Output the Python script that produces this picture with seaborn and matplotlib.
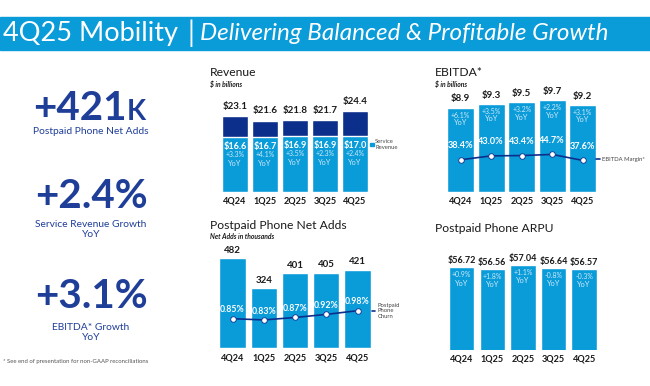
import numpy as np
import pandas as pd
import matplotlib
matplotlib.use("Agg")
import matplotlib.pyplot as plt
import seaborn as sns
from matplotlib.patches import Patch, Rectangle
from matplotlib.lines import Line2D

# ---------------- data ----------------
quarters = ["4Q24", "1Q25", "2Q25", "3Q25", "4Q25"]
revenue_total = [23.1, 21.6, 21.8, 21.7, 24.4]
service_revenue = [16.6, 16.7, 16.9, 16.9, 17.0]
service_yoy = ["+3.3%", "+4.1%", "+3.5%", "+2.3%", "+2.4%"]
ebitda = [8.9, 9.3, 9.5, 9.7, 9.2]
ebitda_yoy = ["+6.1%", "+3.5%", "+3.2%", "+2.2%", "+3.1%"]
ebitda_margin = [38.4, 43.0, 43.4, 44.7, 37.6]
net_adds = [482, 324, 401, 405, 421]
churn = [0.85, 0.83, 0.87, 0.92, 0.98]
arpu = [56.72, 56.56, 57.04, 56.64, 56.57]
arpu_yoy = ["+0.9%", "+1.8%", "+1.1%", "-0.8%", "-0.3%"]

kpi_numbers = ["+421", "+2.4%", "+3.1%"]
kpi_suffix = ["K", "", ""]
kpi_labels = ["Postpaid Phone Net Adds", "Service Revenue Growth\nYoY", "EBITDA* Growth\nYoY"]

# ---------------- style ----------------
BLUE = "#0A9BD9"
NAVY = "#0D2F8C"
KPI = "#1F3E98"
PALE = "#CFEAF8"
DARK = "#1a1a1a"

sns.set_theme(style="white")
plt.rcParams["font.family"] = ["Lato", "DejaVu Sans"]

W, H = 650, 386
fig = plt.figure(figsize=(W / 100, H / 100), dpi=100)
fig.patch.set_facecolor("white")


def box(l, t, r, b):
    return [l / W, 1 - b / H, (r - l) / W, (b - t) / H]


def fx(px):
    return px / W


def fy(py):
    return 1 - py / H


# header band
fig.patches.append(Rectangle((0, fy(50)), 1, (50 - 16.5) / H, transform=fig.transFigure,
                             color=BLUE, zorder=0))
fig.text(fx(3), fy(33), "4Q25 Mobility", color="white", fontsize=19.5, va="center", ha="left")
fig.text(fx(188), fy(33), "|", color="white", fontsize=20, va="center", ha="left")
fig.text(fx(200), fy(34), "Delivering Balanced & Profitable Growth", color="white",
         fontsize=17.5, style="italic", va="center", ha="left")

# ---------------- KPIs ----------------
kpi_base = [119.5, 208, 308]
kpi_sub_y = [132, 220, 323]
for i in range(3):
    if kpi_suffix[i]:
        fig.text(fx(127), fy(kpi_base[i]), kpi_numbers[i], color=KPI, fontsize=29,
                 fontweight="bold", ha="right", va="baseline")
        fig.text(fx(127), fy(kpi_base[i]), kpi_suffix[i], color=KPI, fontsize=20,
                 fontweight="bold", ha="left", va="baseline")
    else:
        fig.text(fx(91), fy(kpi_base[i]), kpi_numbers[i], color=KPI, fontsize=29,
                 fontweight="bold", ha="center", va="baseline")
    fig.text(fx(91), fy(kpi_sub_y[i]), kpi_labels[i], color=KPI, fontsize=7.4,
             ha="center", va="top" if "\n" in kpi_labels[i] else "center",
             linespacing=1.2)
fig.text(fx(3), fy(361), "* See end of presentation for non-GAAP reconciliations",
         color="#555555", fontsize=4.3, ha="left", va="center")


def style_axis(ax, ylim, xlim=(-0.5, 4.5)):
    ax.set_ylim(*ylim)
    ax.set_xlim(*xlim)
    ax.set_yticks([])
    ax.set_xlabel("")
    ax.set_ylabel("")
    for s in ax.spines.values():
        s.set_visible(False)
    ax.tick_params(axis="x", length=0, pad=3.5, labelsize=6.6, labelcolor=DARK)
    for t in ax.get_xticklabels():
        t.set_fontweight("bold")
    ax.set_facecolor("none")


def titles(x, y, title, sub=None):
    fig.text(fx(x), fy(y), title, fontsize=8.7, color=DARK, ha="left", va="center")
    if sub:
        fig.text(fx(x), fy(y + 11.3), sub, fontsize=4.9, color=DARK, ha="left",
                 va="center", style="italic", fontweight="bold")


# ---------------- Revenue ----------------
ax = fig.add_axes(box(220, 100, 370, 192))
sns.barplot(x=quarters, y=revenue_total, color=NAVY, saturation=1, width=0.85, ax=ax)
sns.barplot(x=quarters, y=service_revenue, color=BLUE, saturation=1, width=0.85, ax=ax)
style_axis(ax, (0, 92 / 3.3))
for i in range(len(quarters)):
    ax.annotate(f"${revenue_total[i]:.1f}", (i, revenue_total[i]), xytext=(0, 7),
                textcoords="offset points", ha="center", va="center", fontsize=7,
                fontweight="bold", color=DARK)
    ax.annotate(f"${service_revenue[i]:.1f}", (i, service_revenue[i]), xytext=(0, -6.8),
                textcoords="offset points", ha="center", va="center", fontsize=6.6,
                fontweight="bold", color="white")
    ax.annotate(service_yoy[i], (i, service_revenue[i]), xytext=(0, -12.7),
                textcoords="offset points", ha="center", va="center", fontsize=5,
                color=PALE)
    ax.annotate("YoY", (i, service_revenue[i]), xytext=(0, -18.8),
                textcoords="offset points", ha="center", va="center", fontsize=5.3,
                color=PALE)
ax.legend(handles=[Patch(color=BLUE, label="Service\nRevenue")], loc="center left",
          bbox_to_anchor=(fx(370), fy(144.5)), bbox_transform=fig.transFigure,
          frameon=False, fontsize=4.2, handlelength=0.6, handleheight=0.6,
          handletextpad=0.3, borderpad=0, borderaxespad=0, labelcolor="#444444")
titles(210, 72.7, "Revenue", "$ in billions")

# ---------------- EBITDA ----------------
ax = fig.add_axes(box(445.5, 92, 598, 192))
sns.barplot(x=quarters, y=ebitda, color=BLUE, saturation=1, width=0.885, ax=ax)
style_axis(ax, (0, 100 / 9.47))
ax2 = ax.twinx()
sns.lineplot(x=np.arange(len(quarters)), y=ebitda_margin, ax=ax2, color=NAVY,
             linewidth=1.2, marker="o", markersize=4, markerfacecolor="white",
             markeredgecolor=NAVY, markeredgewidth=0.6)
ax2.set_ylim(0, 100 / 0.84)
ax2.set_xlim(-0.5, 4.5)
ax2.axis("off")
for i in range(len(quarters)):
    ax.annotate(f"${ebitda[i]:.1f}", (i, ebitda[i]), xytext=(0, 6.3),
                textcoords="offset points", ha="center", va="center", fontsize=7,
                fontweight="bold", color=DARK)
    ax.annotate(ebitda_yoy[i], (i, ebitda[i]), xytext=(0, -5.3),
                textcoords="offset points", ha="center", va="center", fontsize=5,
                color=PALE)
    ax.annotate("YoY", (i, ebitda[i]), xytext=(0, -10.8),
                textcoords="offset points", ha="center", va="center", fontsize=5.3,
                color=PALE)
    ax2.annotate(f"{ebitda_margin[i]:.1f}%", (i, ebitda_margin[i]), xytext=(0, 10),
                 textcoords="offset points", ha="center", va="center", fontsize=6.6,
                 fontweight="bold", color="white")
ax2.legend(handles=[Line2D([], [], color=NAVY, linewidth=1.2, label="EBITDA Margin*")],
           loc="center left", bbox_to_anchor=(fx(596), fy(159)),
           bbox_transform=fig.transFigure, frameon=False, fontsize=4.2,
           handlelength=0.6, handletextpad=0.4, borderpad=0, borderaxespad=0,
           labelcolor="#444444")
titles(435, 72.7, "EBITDA*", "$ in billions")

# ---------------- Net adds ----------------
ax = fig.add_axes(box(216.9, 245, 373.15, 348.3))
sns.barplot(x=quarters, y=net_adds, color=BLUE, saturation=1, width=0.84, ax=ax)
style_axis(ax, (0, 103.3 / 0.1867))
ax2 = ax.twinx()
sns.lineplot(x=np.arange(len(quarters)), y=churn, ax=ax2, color=NAVY,
             linewidth=1.2, marker="o", markersize=4, markerfacecolor="white",
             markeredgecolor=NAVY, markeredgewidth=0.6)
ax2.set_ylim(0.85 - 29.6 / 61.5, 0.85 + 73.7 / 61.5)
ax2.set_xlim(-0.5, 4.5)
ax2.axis("off")
for i in range(len(quarters)):
    ax.annotate(f"{net_adds[i]}", (i, net_adds[i]), xytext=(0, 5.6),
                textcoords="offset points", ha="center", va="center", fontsize=7,
                fontweight="bold", color=DARK)
    ax2.annotate(f"{churn[i]:.2f}%", (i, churn[i]), xytext=(0, 6.3),
                 textcoords="offset points", ha="center", va="center", fontsize=6.3,
                 fontweight="bold", color="white")
ax2.legend(handles=[Line2D([], [], color=NAVY, linewidth=1.2,
                           label="Postpaid\nPhone\nChurn")],
           loc="center left", bbox_to_anchor=(fx(371.5), fy(311)),
           bbox_transform=fig.transFigure, frameon=False, fontsize=4.2,
           handlelength=0.6, handletextpad=0.4, borderpad=0, borderaxespad=0,
           labelcolor="#444444")
titles(210, 225.7, "Postpaid Phone Net Adds", "Net Adds in thousands")

# ---------------- ARPU ----------------
ax = fig.add_axes(box(446.4, 255, 599.4, 350))
sns.barplot(x=quarters, y=arpu, color=BLUE, saturation=1, width=0.83, ax=ax)
style_axis(ax, (47, 47 + 95 / 8.49))
for i in range(len(quarters)):
    ax.annotate(f"${arpu[i]:.2f}", (i, arpu[i]), xytext=(0, 4.8),
                textcoords="offset points", ha="center", va="center", fontsize=6.5,
                fontweight="bold", color=DARK)
    ax.annotate(arpu_yoy[i], (i, arpu[i]), xytext=(0, -5.4),
                textcoords="offset points", ha="center", va="center", fontsize=5,
                color=PALE)
    ax.annotate("YoY", (i, arpu[i]), xytext=(0, -11.4),
                textcoords="offset points", ha="center", va="center", fontsize=5.3,
                color=PALE)
titles(435, 228, "Postpaid Phone ARPU")

fig.savefig("out.png", dpi=100, facecolor="white")
